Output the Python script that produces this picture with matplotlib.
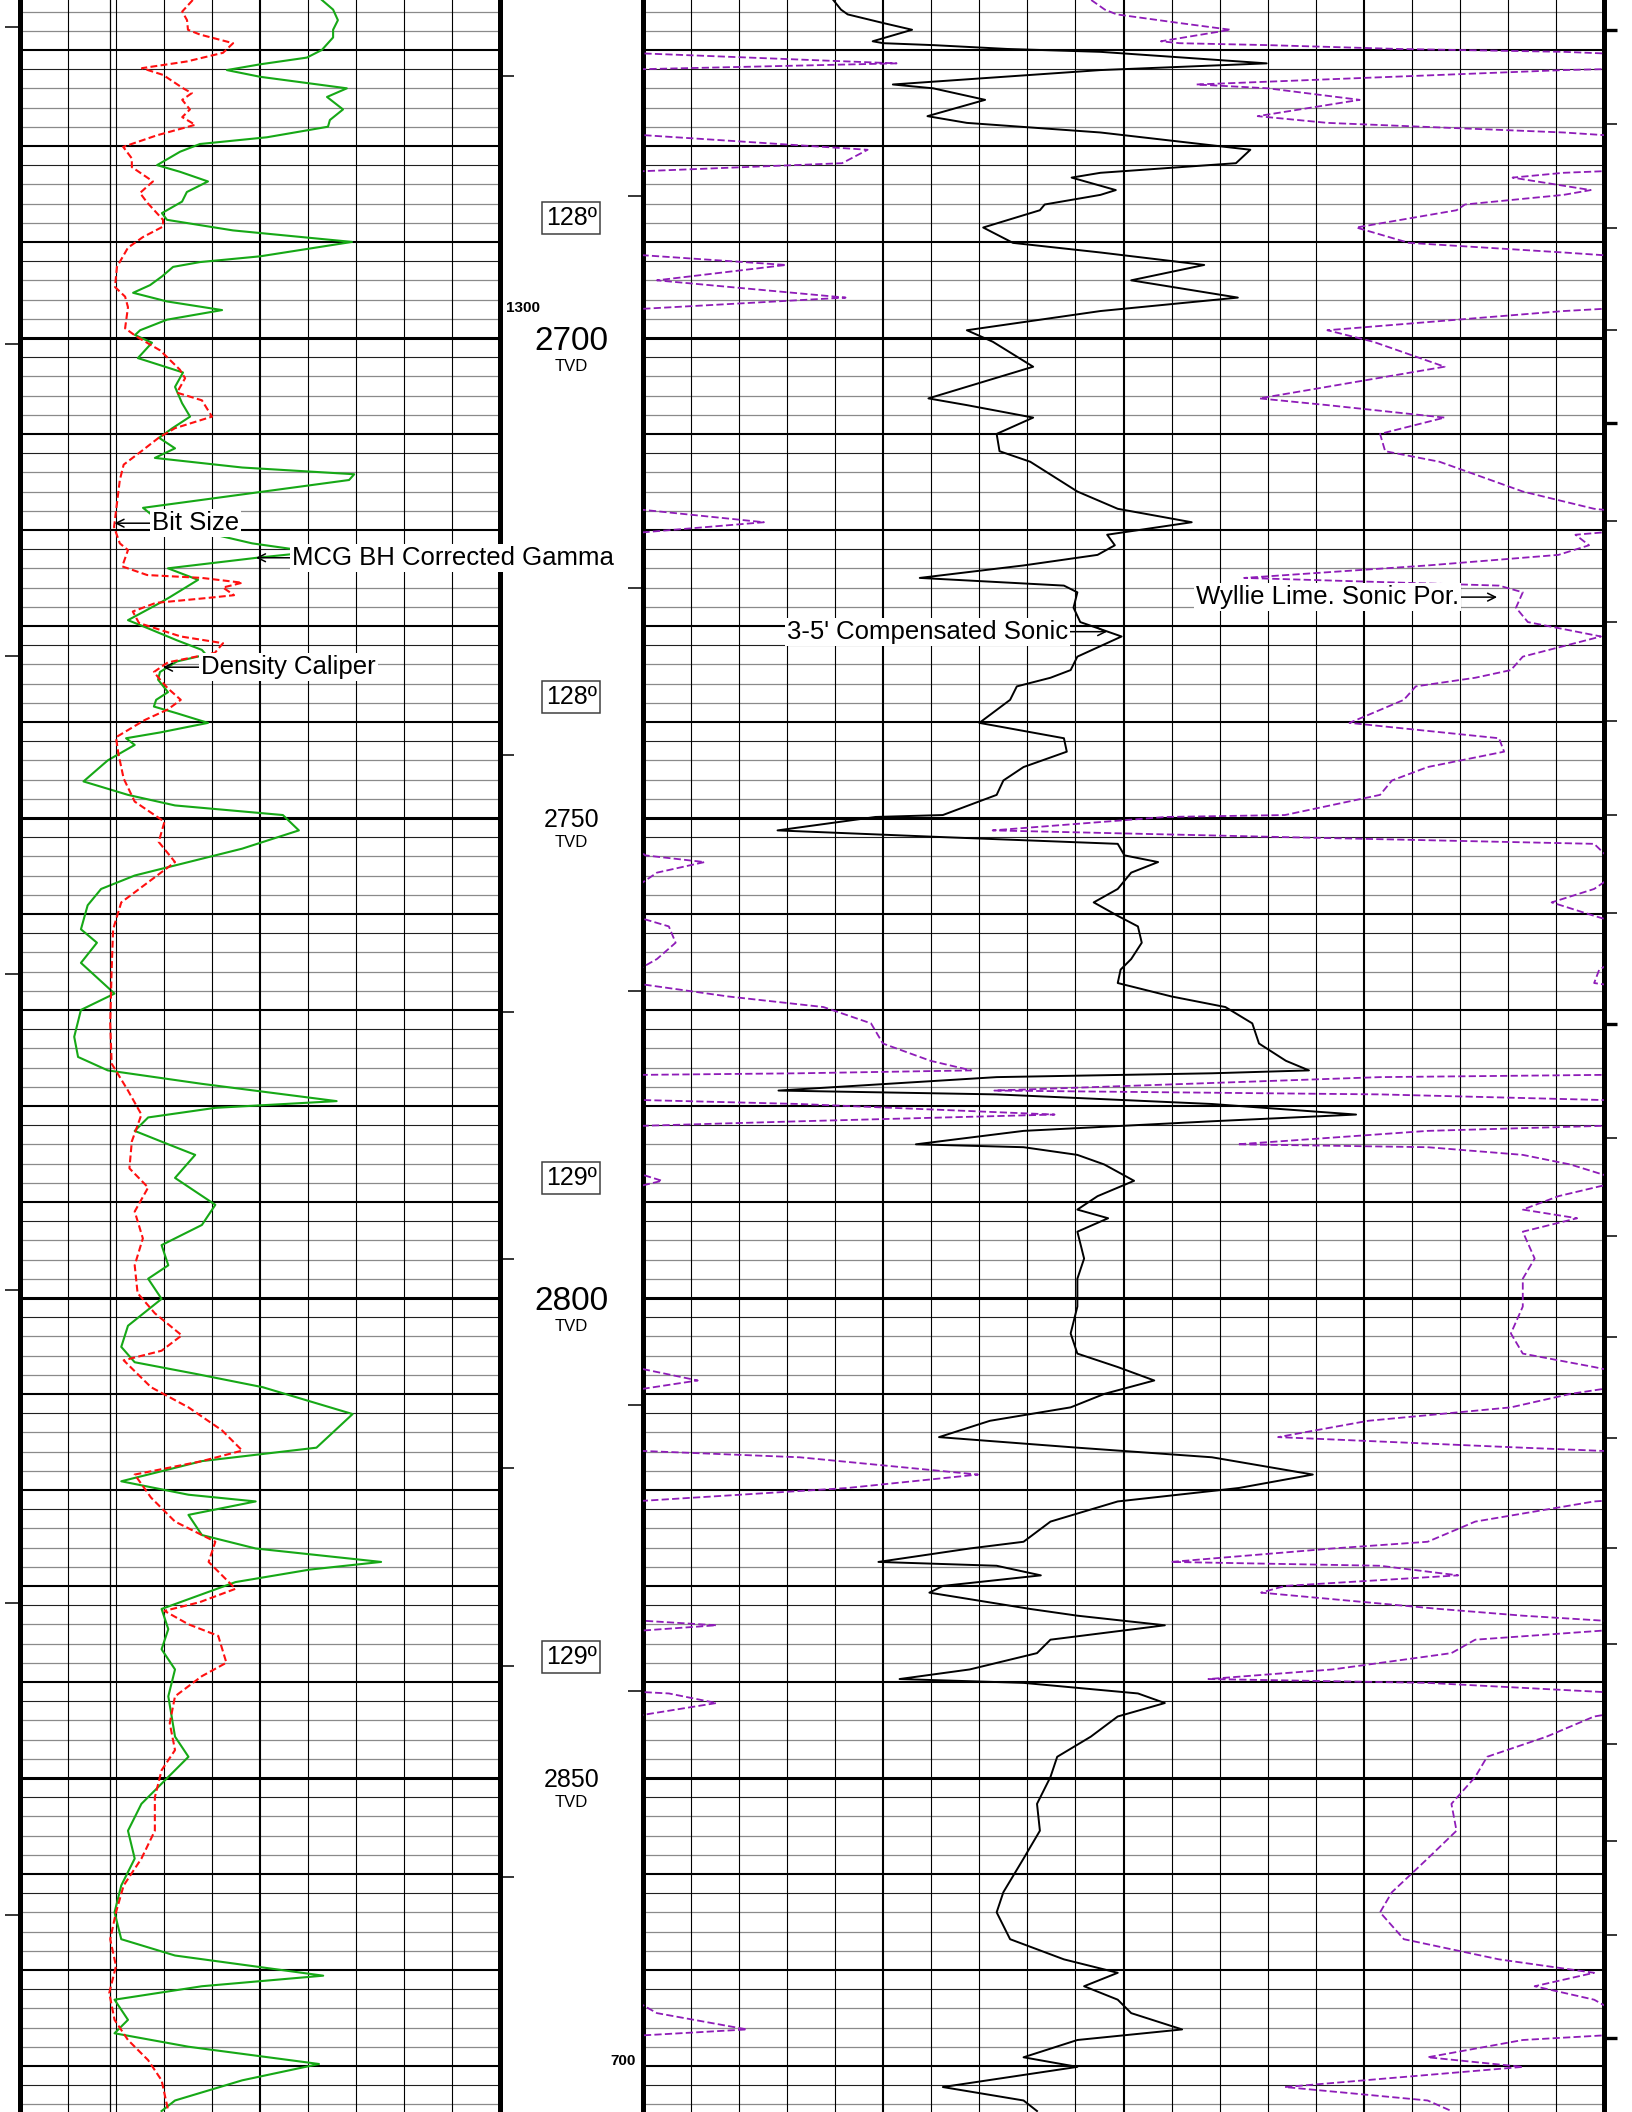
import numpy as np
import matplotlib.pyplot as plt

plt.rcParams['font.family'] = ['Liberation Sans', 'DejaVu Sans']

# visible depth window, ft TVD
depth_top = 2664.8
depth_base = 2884.8

# MCG BH corrected gamma (API)
gr_depth = [2664.8, 2665.8, 2666.9, 2667.9, 2668.7, 2670.0, 2670.8, 2671.5, 2672.1, 2672.8,
            2674.0, 2674.9, 2676.2, 2677.3, 2678.0, 2679.1, 2679.8, 2680.6, 2682.0, 2682.7,
            2683.7, 2684.8, 2685.8, 2687.0, 2687.7, 2688.8, 2690.0, 2691.5, 2692.1, 2692.6,
            2693.6, 2694.5, 2695.3, 2696.2, 2697.1, 2698.1, 2699.2, 2699.7, 2700.5, 2702.1,
            2703.6, 2705.1, 2706.8, 2708.2, 2709.4, 2710.4, 2711.5, 2712.5, 2713.5, 2714.2,
            2714.8, 2717.7, 2718.8, 2719.7, 2720.5, 2721.4, 2722.3, 2722.9, 2724.0, 2725.2,
            2727.0, 2727.6, 2729.4, 2730.2, 2731.5, 2732.5, 2733.0, 2733.7, 2734.8, 2735.6,
            2736.9, 2737.7, 2738.4, 2739.1, 2740.1, 2741.1, 2741.7, 2742.4, 2744.0, 2746.2,
            2747.6, 2748.7, 2749.7, 2751.3, 2753.2, 2756.0, 2757.4, 2759.1, 2761.6, 2763.0,
            2765.1, 2768.3, 2770.0, 2772.8, 2774.9, 2776.3, 2777.7, 2779.5, 2780.2, 2781.2,
            2782.6, 2784.0, 2785.1, 2787.5, 2790.3, 2792.4, 2794.5, 2796.6, 2798.0, 2800.1,
            2802.9, 2805.1, 2806.7, 2807.9, 2809.3, 2812.1, 2815.6, 2817.0, 2819.1, 2820.5,
            2821.2, 2822.6, 2824.7, 2826.1, 2827.5, 2828.3, 2829.6, 2832.4, 2834.5, 2836.6,
            2838.7, 2841.5, 2845.7, 2847.8, 2849.9, 2852.7, 2855.5, 2858.4, 2861.2, 2864.0,
            2866.8, 2868.5, 2870.6, 2871.7, 2873.1, 2875.2, 2876.6, 2878.0, 2879.8, 2881.5,
            2883.6, 2884.7]
gr_api = [94.5, 98.0, 99.5, 98.0, 98.0, 94.5, 89.8, 75.2, 64.8, 75.2,
          102.3, 96.1, 101.1, 97.0, 96.4, 77.3, 56.4, 50.2, 43.0, 50.2,
          58.9, 52.3, 50.8, 44.5, 46.1, 66.7, 103.9, 75.2, 56.4, 48.0,
          44.5, 40.8, 35.5, 46.1, 63.3, 46.1, 37.7, 36.1, 41.4, 37.0,
          51.1, 48.6, 50.8, 53.3, 47.8, 43.6, 48.6, 42.3, 69.6, 104.6,
          103.0, 38.6, 42.7, 59.5, 61.1, 72.7, 91.7, 74.2, 46.4, 55.8,
          47.0, 43.9, 33.9, 39.8, 49.2, 57.0, 58.3, 49.2, 43.9, 43.3,
          46.4, 42.7, 42.0, 49.2, 58.9, 43.9, 33.3, 36.0, 27.6, 20.0,
          33.9, 48.6, 82.3, 87.3, 69.6, 36.0, 25.5, 21.3, 19.2, 24.2,
          19.2, 29.7, 19.2, 17.1, 18.3, 27.6, 57.0, 99.1, 61.2, 40.2,
          36.0, 46.5, 54.9, 48.6, 61.2, 57.0, 44.4, 46.5, 40.2, 44.4,
          33.9, 31.8, 36.0, 54.9, 76.0, 104.1, 92.8, 57.0, 31.8, 52.8,
          73.8, 52.8, 57.0, 73.8, 113.0, 90.7, 67.5, 44.4, 46.5, 44.4,
          48.6, 46.5, 48.6, 52.8, 46.5, 38.1, 33.9, 36.0, 31.8, 29.7,
          31.8, 48.6, 94.9, 57.0, 29.7, 33.9, 29.7, 52.8, 93.6, 69.6,
          48.6, 44.4]

# density caliper (in)
cal_depth = [2664.8, 2666.0, 2666.9, 2667.9, 2668.4, 2669.3, 2670.3, 2671.2, 2671.9, 2672.6,
             2674.0, 2674.5, 2675.2, 2676.2, 2677.0, 2677.8, 2678.9, 2680.1, 2681.3, 2682.2,
             2683.7, 2684.9, 2685.9, 2687.7, 2688.4, 2689.5, 2690.6, 2692.6, 2694.7, 2695.7,
             2696.8, 2699.0, 2699.9, 2701.3, 2703.3, 2704.2, 2705.7, 2706.5, 2708.2, 2709.4,
             2710.4, 2711.8, 2713.2, 2714.8, 2719.7, 2721.4, 2722.1, 2723.8, 2724.7, 2725.0,
             2725.5, 2726.0, 2726.8, 2727.1, 2727.6, 2728.5, 2729.7, 2731.1, 2731.8, 2732.8,
             2733.8, 2734.8, 2735.6, 2736.5, 2737.7, 2738.7, 2739.8, 2741.6, 2743.3, 2745.9,
             2748.3, 2750.4, 2752.5, 2754.6, 2756.7, 2758.8, 2761.6, 2765.8, 2771.4, 2775.6,
             2778.4, 2780.9, 2783.7, 2786.5, 2788.5, 2791.0, 2793.8, 2796.6, 2799.5, 2801.6,
             2803.9, 2805.5, 2806.5, 2809.3, 2811.4, 2813.8, 2815.9, 2817.0, 2818.4, 2820.8,
             2823.3, 2825.4, 2827.5, 2830.3, 2831.7, 2832.6, 2834.0, 2835.2, 2838.0, 2839.4,
             2841.5, 2844.3, 2847.1, 2849.2, 2852.0, 2855.5, 2858.4, 2861.2, 2864.0, 2866.8,
             2869.6, 2872.4, 2875.2, 2877.3, 2879.4, 2881.5, 2884.7]
cal_in = [9.61, 9.39, 9.49, 9.51, 9.76, 10.45, 10.24, 9.49, 8.55, 8.99,
          9.41, 9.59, 9.39, 9.55, 9.39, 9.66, 8.86, 8.16, 8.34, 8.34,
          8.78, 8.51, 8.66, 8.99, 8.99, 8.57, 8.26, 8.03, 7.99, 8.20,
          8.26, 8.20, 8.45, 8.93, 9.34, 9.45, 9.28, 9.80, 10.01, 9.24,
          8.90, 8.54, 8.17, 8.09, 7.97, 8.09, 8.26, 8.14, 8.66, 9.80,
          10.64, 10.24, 10.47, 9.89, 8.84, 8.36, 8.49, 9.36, 10.24, 10.07,
          9.09, 8.80, 8.93, 9.09, 9.36, 9.09, 8.61, 8.01, 8.06, 8.17,
          8.40, 9.02, 8.90, 9.24, 8.68, 8.12, 7.95, 7.92, 7.89, 7.92,
          8.26, 8.54, 8.34, 8.29, 8.68, 8.40, 8.57, 8.40, 8.46, 8.82,
          9.38, 8.96, 8.17, 8.74, 9.52, 10.22, 10.64, 9.80, 8.40, 8.74,
          9.24, 10.08, 9.94, 10.50, 9.75, 9.02, 9.52, 10.14, 10.31, 9.80,
          9.24, 9.13, 9.24, 8.96, 8.82, 8.82, 8.54, 8.17, 8.01, 7.89,
          8.01, 7.87, 7.98, 8.26, 8.68, 8.96, 9.10]
bit_size = 7.875

# 3-5' compensated sonic (us/ft)
dt_depth = [2664.8, 2665.8, 2666.3, 2667.2, 2667.9, 2669.1, 2669.3, 2669.5, 2669.9, 2670.2,
            2671.4, 2672.1, 2673.6, 2674.0, 2675.2, 2676.9, 2677.6, 2678.6, 2680.4, 2681.8,
            2682.8, 2683.3, 2684.6, 2685.1, 2686.1, 2686.7, 2688.5, 2690.1, 2691.1, 2692.4,
            2694.0, 2695.8, 2697.2, 2699.2, 2700.4, 2703.0, 2706.3, 2707.0, 2708.3, 2710.0,
            2711.8, 2712.9, 2716.0, 2717.8, 2719.2, 2720.5, 2721.6, 2722.6, 2723.7, 2725.0,
            2725.8, 2726.5, 2728.1, 2729.6, 2731.1, 2733.2, 2734.6, 2735.4, 2736.3, 2737.7,
            2740.1, 2741.7, 2743.1, 2744.7, 2746.1, 2747.6, 2749.7, 2749.9, 2751.3, 2752.0,
            2752.7, 2753.9, 2754.6, 2755.7, 2757.4, 2758.8, 2760.2, 2761.3, 2763.0, 2764.7,
            2765.8, 2767.2, 2768.6, 2769.7, 2771.4, 2773.5, 2775.3, 2776.3, 2776.6, 2777.0,
            2778.4, 2778.8, 2779.8, 2780.9, 2781.6, 2782.6, 2784.0, 2784.3, 2785.1, 2786.1,
            2787.8, 2789.4, 2790.8, 2791.7, 2793.1, 2795.9, 2798.0, 2800.9, 2803.7, 2805.8,
            2807.2, 2808.6, 2810.0, 2811.4, 2812.8, 2814.5, 2815.6, 2816.6, 2818.4, 2819.8,
            2821.2, 2823.3, 2825.4, 2826.1, 2827.5, 2827.9, 2828.9, 2830.0, 2830.7, 2832.4,
            2833.1, 2834.1, 2835.6, 2837.0, 2838.7, 2839.7, 2840.1, 2841.2, 2842.2, 2843.6,
            2845.7, 2847.8, 2849.9, 2852.7, 2855.5, 2858.4, 2861.9, 2864.0, 2866.8, 2868.9,
            2870.3, 2871.7, 2873.1, 2874.5, 2876.2, 2877.3, 2879.1, 2880.1, 2882.2, 2883.6,
            2884.7]
dt_us = [120.2, 119.4, 118.7, 115.0, 112.0, 116.1, 115.0, 109.8, 102.1, 92.4,
         75.1, 92.4, 114.0, 109.8, 104.4, 110.4, 106.3, 92.4, 76.8, 78.3,
         92.4, 95.4, 90.8, 92.4, 98.2, 98.7, 104.6, 101.5, 92.4, 81.6,
         89.2, 78.1, 92.4, 106.3, 103.6, 99.4, 110.3, 106.3, 99.4, 103.2,
         102.9, 99.7, 94.8, 90.6, 82.9, 91.7, 90.9, 92.7, 100.4, 111.2,
         96.2, 94.8, 95.2, 94.5, 90.2, 94.8, 95.5, 97.6, 101.1, 101.8,
         105.0, 96.2, 95.9, 100.4, 102.5, 103.2, 108.8, 115.8, 126.0, 108.8,
         90.6, 89.9, 86.4, 89.2, 90.6, 93.1, 90.6, 88.5, 88.1, 89.2,
         90.3, 90.6, 85.0, 79.4, 76.6, 75.9, 73.1, 70.7, 80.8, 103.2,
         125.9, 103.2, 80.8, 65.8, 80.8, 100.4, 111.6, 100.4, 94.8, 92.0,
         88.9, 92.7, 94.8, 91.6, 94.8, 94.1, 94.8, 94.8, 95.5, 94.8,
         90.6, 86.8, 92.0, 95.5, 103.9, 109.2, 94.8, 80.8, 70.3, 78.0,
         90.6, 97.6, 100.4, 106.0, 115.5, 103.2, 98.6, 108.8, 110.2, 99.7,
         94.8, 85.7, 97.6, 99.0, 106.0, 113.3, 100.4, 88.5, 85.7, 90.6,
         93.4, 96.9, 97.6, 99.0, 98.7, 100.4, 102.5, 103.2, 101.8, 96.2,
         90.6, 94.1, 90.6, 89.2, 83.9, 94.8, 100.4, 94.8, 108.8, 100.4,
         99.0]

# Wyllie time-average, limestone matrix
dt_matrix = 47.6
dt_fluid = 189.0

depth_labels = [2700, 2750, 2800, 2850]
temp_depth = [2687.5, 2737.4, 2787.5, 2837.4]
temp_text = ['128º', '128º', '129º', '129º']

metre_ticks = [2667.6, 2700.6, 2733.1, 2766.3, 2799.2, 2831.8, 2864.3]
md_left_ticks = [2672.7, 2743.4, 2770.2, 2795.9, 2817.7, 2838.3, 2860.3]
md_right_ticks = [2685.2, 2726.0, 2768.0, 2811.2, 2840.9]
edge_ticks = [2667.9, 2677.7, 2688.6, 2699.2, 2708.9, 2719.1, 2729.6, 2739.9, 2749.7, 2759.9,
              2771.5, 2783.3, 2793.5, 2804.1, 2814.6, 2826.1, 2836.1, 2846.5, 2856.6, 2866.4,
              2877.1]
edge_ticks_bold = [2667.9, 2708.9, 2771.5, 2877.1]

W, H = 1632, 2112
fig = plt.figure(figsize=(W / 100, H / 100), dpi=100)
fig.patch.set_facecolor('white')


def track(x0, x1):
    return fig.add_axes([x0 / W, 0, (x1 - x0) / W, 1])


ax_g = track(19.5, 499.5)
ax_d = track(499.5, 643)
ax_s = track(643, 1604)

for ax in (ax_g, ax_d, ax_s):
    ax.set_ylim(depth_base, depth_top)
    ax.patch.set_visible(False)
    for sp in ax.spines.values():
        sp.set_visible(False)
    ax.set_xticks([])

ax_g.set_xlim(0, 150)
ax_d.set_xlim(0, 1)
ax_s.set_xlim(140, 40)


def depth_grid(ax):
    for d in range(2666, 2886, 2):
        if d % 50 == 0:
            ax.axhline(d, color='black', lw=2.2, zorder=1)
        elif d % 10 == 0:
            ax.axhline(d, color='black', lw=1.5, zorder=1)
        elif d % 10 == 2:
            ax.axhline(d, color='#202020', lw=0.8, zorder=1)
        else:
            ax.axhline(d, color='#8a8a8a', lw=0.9, zorder=1)


depth_grid(ax_g)
depth_grid(ax_s)
for v in range(15, 150, 15):
    ax_g.axvline(v, color='black', lw=1.5 if v == 75 else 0.8, zorder=1)
for v in range(45, 140, 5):
    ax_s.axvline(v, color='black', lw=1.5 if v in (65, 90, 115) else 0.8, zorder=1)

for ax in (ax_g, ax_s):
    for side in ('left', 'right'):
        ax.spines[side].set_visible(True)
        ax.spines[side].set_linewidth(3.6)

# depth ticks
ax_g.set_yticks(metre_ticks)
ax_g.tick_params(axis='y', direction='out', length=10.5, width=1.1,
                 left=True, right=False, labelleft=False)
ax_d.set_yticks(md_left_ticks)
ax_d.tick_params(axis='y', direction='in', length=10, width=1.1,
                 left=True, right=False, labelleft=False)
ax_d2 = ax_d.twinx()
ax_d2.set_ylim(depth_base, depth_top)
ax_d2.set_yticks(md_right_ticks)
ax_d2.tick_params(axis='y', direction='in', length=11, width=1.1, labelright=False)
for sp in ax_d2.spines.values():
    sp.set_visible(False)

ax_s.set_yticks(edge_ticks)
ax_s.yaxis.tick_right()
ax_s.tick_params(axis='y', direction='out', length=9.5, width=1.1,
                 left=False, labelright=False)
for t, d in zip(ax_s.yaxis.get_major_ticks(), edge_ticks):
    if d in edge_ticks_bold:
        t.tick2line.set_markeredgewidth(2.4)

# left track curves
ax_g.plot(gr_api, gr_depth, color='#16a816', lw=1.5, zorder=3)
ax_c = ax_g.twiny()
ax_c.set_xlim(6, 16)
ax_c.set_xticks([])
for sp in ax_c.spines.values():
    sp.set_visible(False)
ax_c.axvline(bit_size, color='black', lw=0.9, zorder=2)
ax_c.plot(cal_in, cal_depth, color='#ff1010', lw=1.5, ls=(0, (3.3, 1.6)), zorder=3)

# right track curves
ax_s.plot(dt_us, dt_depth, color='black', lw=1.4, zorder=3)
ax_p = ax_s.twiny()
ax_p.set_xlim(0.3, -0.1)
ax_p.set_xticks([])
for sp in ax_p.spines.values():
    sp.set_visible(False)
phi = (np.array(dt_us) - dt_matrix) / (dt_fluid - dt_matrix)
for k in range(-2, 4):  # wrap-around copies, clipped by the track
    ax_p.plot(phi + 0.4 * k, dt_depth, color='#8e1cb8', lw=1.3,
              ls=(0, (4, 1.8)), zorder=3)

ax_d.set_zorder(0)
ax_d2.set_zorder(0)
for ax in (ax_g, ax_s):
    ax.set_zorder(1)
for ax in (ax_c, ax_p):
    ax.set_zorder(2)

# curve labels
arrow = dict(arrowstyle='->', color='black', lw=1.1, shrinkA=0, shrinkB=0,
             mutation_scale=14)
box = dict(boxstyle='square,pad=0.08', fc='white', ec='none')
lab = dict(fontsize=18.5, va='center', arrowprops=arrow, bbox=box,
           annotation_clip=False, zorder=10)
ax_c.annotate('Bit Size', xy=(7.98, 2719.3), xytext=(8.76, 2719.3), ha='left', **lab)
ax_c.annotate('Density Caliper', xy=(8.99, 2734.3), xytext=(9.78, 2734.3), ha='left', **lab)
ax_c.annotate('MCG BH Corrected Gamma', xy=(73.9 / 15 + 6, 2722.9),
              xytext=(85.3 / 15 + 6, 2722.9), ha='left', **lab)
ax_p.annotate("3-5' Compensated Sonic", xy=(0.3 - 0.4 * (140 - 91.7) / 100, 2730.6),
              xytext=(0.3 - 0.4 * (140 - 95.8) / 100, 2730.6), ha='right', **lab)
ax_p.annotate('Wyllie Lime. Sonic Por.', xy=(-0.0555, 2727.0),
              xytext=(-0.0397, 2727.0), ha='right', **lab)

# depth track text
for d in depth_labels:
    big = d % 100 == 0
    fs = 24 if big else 18
    ax_d.annotate(str(d), xy=(0.5, d), xytext=(0, -0.358 * fs), textcoords='offset points',
                  ha='center', va='baseline', fontsize=fs)
    ax_d.annotate('TVD', xy=(0.5, d), xytext=(0, -23.8 if big else -21.2),
                  textcoords='offset points', ha='center', va='baseline', fontsize=12)

for d, t in zip(temp_depth, temp_text):
    ax_d.text(0.5, d, t, ha='center', va='center', fontsize=18,
              bbox=dict(boxstyle='square,pad=0.15', fc='white', ec='#404040', lw=1.1))

ax_d.text(0.045, 2696.9, '1300', ha='left', va='center', fontsize=11, fontweight='bold')
ax_d.text(0.951, 2879.5, '700', ha='right', va='center', fontsize=11, fontweight='bold')

fig.savefig('out.png', dpi=100)
